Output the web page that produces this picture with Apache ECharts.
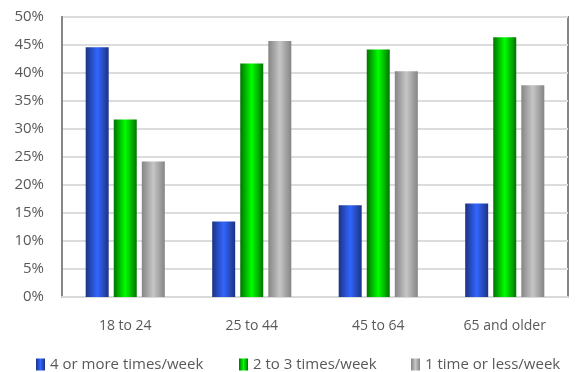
<!DOCTYPE html>
<html>
<head>
<meta charset="utf-8">
<script src="https://cdn.jsdelivr.net/npm/echarts@6/dist/echarts.min.js"></script>
<style>
  html, body { margin: 0; padding: 0; background: #fff; }
  #chart { width: 578px; height: 372px; }
</style>
</head>
<body>
<div id="chart"></div>
<script>
// Age groups on the x axis
const categories = ['18 to 24', '25 to 44', '45 to 64', '65 and older'];

// Share of respondents (%) in each frequency group
const fourOrMore = [44.6, 13.5, 16.4, 16.7];
const twoToThree = [31.7, 41.7, 44.2, 46.4];
const oneOrLess = [24.2, 45.7, 40.3, 37.8];

const seriesNames = ['4 or more times/week', '2 to 3 times/week', '1 time or less/week'];

// Cylinder-like horizontal shading: dark edges, bright centre
function shade(edge, mid) {
  return new echarts.graphic.LinearGradient(0, 0, 1, 0, [
    { offset: 0, color: edge },
    { offset: 0.5, color: mid },
    { offset: 1, color: edge }
  ]);
}

const fills = [
  shade('#1b3383', '#3366ff'),
  shade('#007400', '#00ff00'),
  shade('#858585', '#c6c6c6')
];

const textColor = '#595959';
const fontFamily = '"Open Sans", "Noto Sans", sans-serif';

const chart = echarts.init(document.getElementById('chart'), null, { renderer: 'canvas' });

function legendAt(left, idx) {
  return {
    left: left,
    top: 357,
    padding: 0,
    itemWidth: 9,
    itemHeight: 12,
    itemGap: 0,
    data: [seriesNames[idx]],
    textStyle: { color: textColor, fontSize: 15, fontFamily: fontFamily },
    icon: 'rect',
    selectedMode: false
  };
}

chart.setOption({
  animation: false,
  grid: {
    left: 62, right: 10, top: 17, bottom: 75,
    show: true,
    borderColor: '#868686',
    borderWidth: 2,
    backgroundColor: '#ffffff'
  },
  legend: [legendAt(36, 0), legendAt(239, 1), legendAt(411, 2)],
  xAxis: {
    type: 'category',
    data: categories,
    axisLine: { lineStyle: { color: '#d9d9d9', width: 2 } },
    axisTick: { show: false },
    axisLabel: { color: textColor, fontSize: 14, fontFamily: fontFamily, margin: 22 }
  },
  yAxis: {
    type: 'value',
    min: 0, max: 50, interval: 5,
    axisLine: { show: true, lineStyle: { color: '#868686', width: 2 } },
    axisTick: { show: false },
    axisLabel: { color: textColor, fontSize: 15, fontFamily: fontFamily, margin: 18, formatter: '{value}%' },
    splitLine: { lineStyle: { color: '#dcdcdc', width: 2 } }
  },
  series: [fourOrMore, twoToThree, oneOrLess].map((vals, i) => ({
    name: seriesNames[i],
    type: 'bar',
    data: vals,
    barWidth: 23,
    barGap: '22%',
    itemStyle: { color: fills[i] }
  }))
});
</script>
</body>
</html>
